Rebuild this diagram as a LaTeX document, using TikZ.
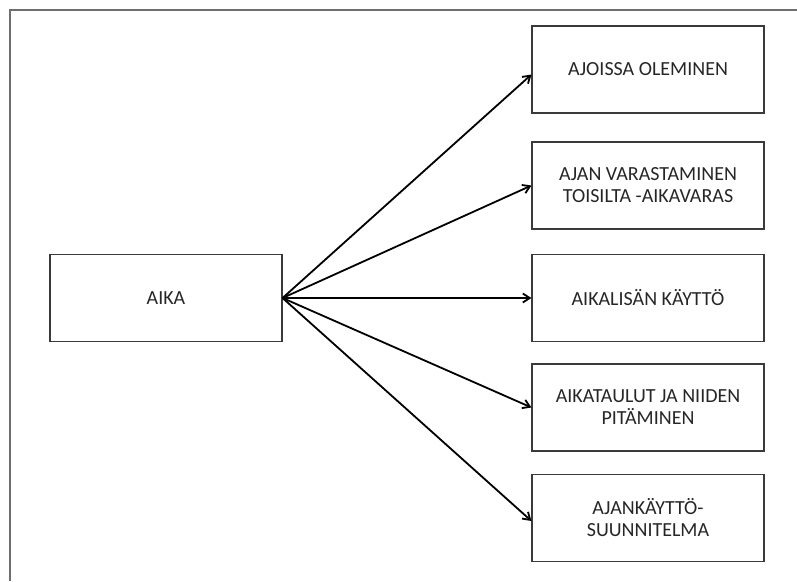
\documentclass[tikz,border=0pt]{standalone}
\usepackage{fontspec}
\setmainfont{Carlito}
\usetikzlibrary{arrows.meta}
\definecolor{framegray}{HTML}{6E6E6E}
\definecolor{boxline}{HTML}{3A3A3A}
\definecolor{textgray}{HTML}{262626}
\begin{document}
\begin{tikzpicture}[x=1pt,y=-1pt,
  topicbox/.style={draw=boxline,line width=1.1pt,minimum width=232pt,minimum height=87pt,
    inner sep=0pt,align=center,text=textgray,font=\fontsize{20}{22}\selectfont},
  link/.style={line width=1.8pt,-{Straight Barb[length=7pt,width=9pt,line width=1.8pt]}}]
  \useasboundingbox (0,0) rectangle (797,581);
  % page frame: top and left edges
  \draw[framegray,line width=2pt] (797,9.5) -- (9.5,9.5) -- (9.5,581);
  % central topic
  \node[topicbox] (aika) at (166,298) {AIKA};
  % subtopics
  \node[topicbox] (b1) at (648,69.5) {AJOISSA OLEMINEN};
  \node[topicbox] (b2) at (648,185.5) {AJAN VARASTAMINEN\\TOISILTA -AIKAVARAS};
  \node[topicbox] (b3) at (648,298) {AIKALISÄN KÄYTTÖ};
  \node[topicbox] (b4) at (648,407.5) {AIKATAULUT JA NIIDEN\\PITÄMINEN};
  \node[topicbox] (b5) at (648,518) {AJANKÄYTTÖ-\\SUUNNITELMA};
  % connectors
  \draw[link] (aika.east) -- ([yshift=-5pt]b1.west);
  \draw[link] (aika.east) -- (b2.west);
  \draw[link] (aika.east) -- (b3.west);
  \draw[link] (aika.east) -- (b4.west);
  \draw[link] (aika.east) -- ([yshift=-3pt]b5.west);
\end{tikzpicture}
\end{document}
